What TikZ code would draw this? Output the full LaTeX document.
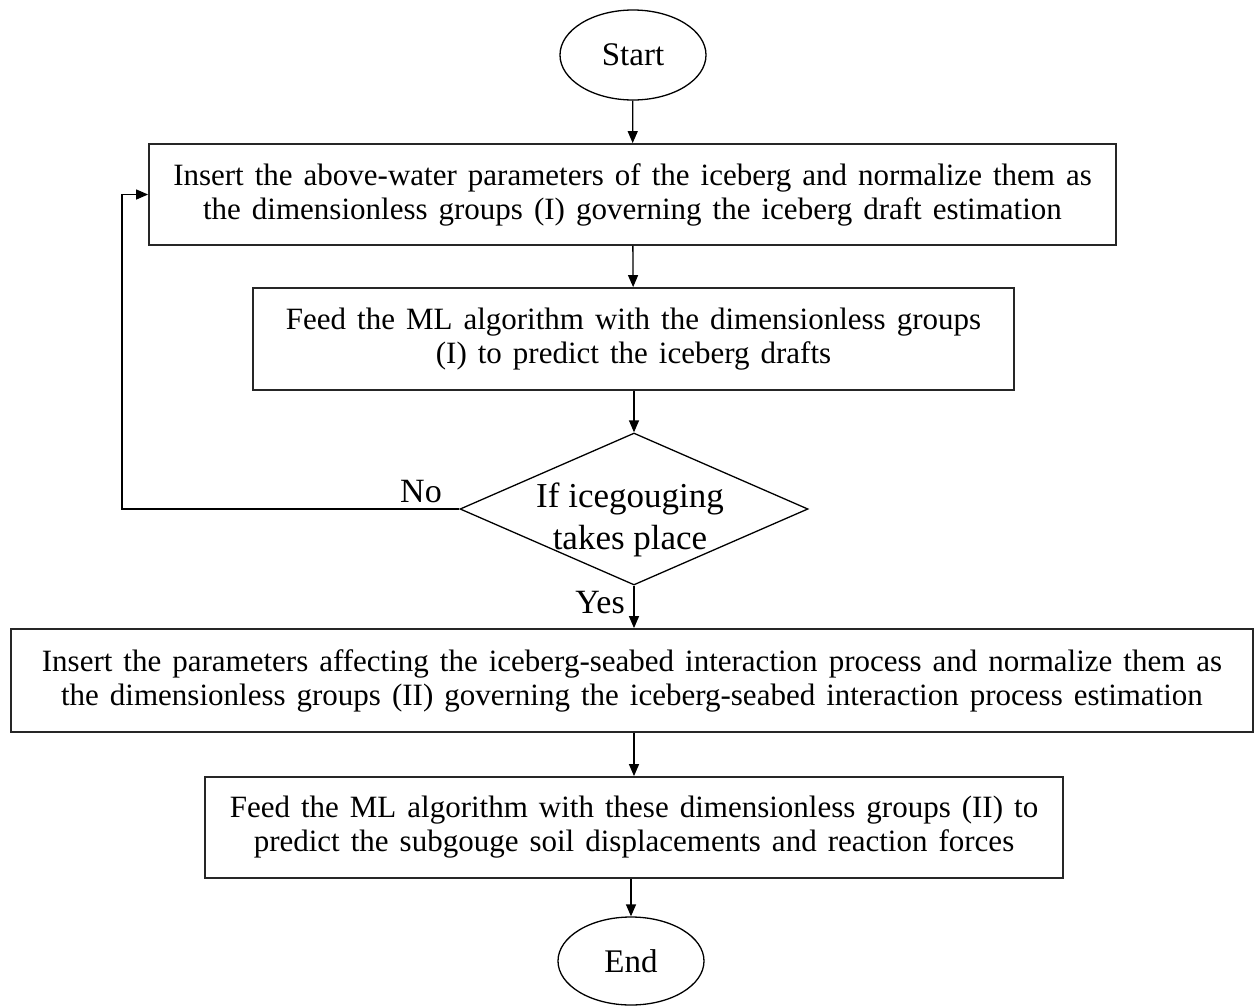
\documentclass[tikz,border=0pt]{standalone}
\usepackage{fontspec}
\setmainfont{Liberation Serif}
\usetikzlibrary{shapes.geometric,arrows.meta}
% text face of the process boxes: slightly wider word spaces
\newcommand\procfont{\fontsize{31}{34}\selectfont\spaceskip 11pt\relax}
\begin{document}
\begin{tikzpicture}[x=1pt,y=-1pt,
  procbox/.style={draw,line width=1.8pt,draw=black!85,rectangle,inner sep=0pt,align=center,
    font=\procfont},
  terminal/.style={draw,line width=1.3pt,ellipse,inner sep=0pt,minimum width=146pt,
    font=\fontsize{33}{38}\selectfont},
  flow/.style={line width=1.3pt,-{Triangle[length=12pt,width=10pt]}},
  lbl/.style={anchor=base,inner sep=0pt,font=\fontsize{34}{40}\selectfont}]
\useasboundingbox (0,0) rectangle (1254,1005);

% terminals
\node[terminal,minimum height=90pt] (start) at (633,55) {Start};
\node[terminal,minimum height=88pt] (end) at (631,961) {End};

% process boxes
\node[procbox,minimum width=967pt,minimum height=101pt] (b1) at (632.5,194.5)
  {Insert the above-water parameters of the iceberg and normalize them as\\
   the dimensionless groups (I) governing the iceberg draft estimation};
\node[procbox,minimum width=761pt,minimum height=102pt] (b2) at (633.5,339)
  {Feed the ML algorithm with the dimensionless groups\\
   (I) to predict the iceberg drafts};
\node[procbox,minimum width=1242pt,minimum height=103pt] (b3) at (632,680.5)
  {Insert the parameters affecting the iceberg-seabed interaction process and normalize them as\\
   the dimensionless groups (II) governing the iceberg-seabed interaction process estimation};
\node[procbox,minimum width=858pt,minimum height=101pt] (b4) at (634,827.5)
  {Feed the ML algorithm with these dimensionless groups (II) to\\
   predict the subgouge soil displacements and reaction forces};

% decision
\node[draw,line width=1.3pt,diamond,inner sep=0pt,minimum width=348pt,minimum height=152pt] (dec) at (634,509) {};
\node[inner sep=0pt,align=center,font=\fontsize{35}{42}\selectfont] (dectext) at (630,520)
  {If icegouging\\takes place};

% connectors
\draw[flow] (start) -- (b1);
\draw[flow] (b1) -- (b2);
\draw[flow] (b2.south -| dec.north) -- (dec.north);
\draw[flow] (dec.south) -- (b3.north -| dec.south);
\draw[flow] (b3.south -| b4.north) -- (b4.north);
\draw[flow] (b4.south -| end.north) -- (end.north);
\coordinate (loop) at (122,509);
\draw[flow] (dec.west) -- (loop) |- (b1.west);

% branch labels
\node[lbl] (no) at (421,502) {No};
\node[lbl] (yes) at (600,613) {Yes};
\end{tikzpicture}
\end{document}
